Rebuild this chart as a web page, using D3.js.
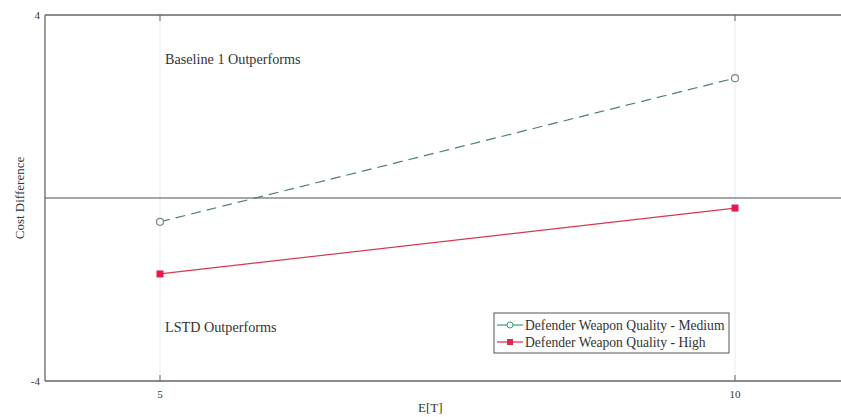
<!DOCTYPE html>
<html>
<head>
<meta charset="utf-8">
<script src="https://cdn.jsdelivr.net/npm/d3@7"></script>
<style>
  body { margin: 0; background: #fff; }
  svg { font-family: "Liberation Serif", "Times New Roman", serif; }
</style>
</head>
<body>
<div id="chart"></div>
<script>
var xValues = [5, 10];
var mediumValues = [-0.52, 2.62];
var highValues = [-1.66, -0.22];
var seriesNames = ["Defender Weapon Quality - Medium", "Defender Weapon Quality - High"];
var yTicks = [-4, 4];

var margin = {top: 15, right: -9, bottom: 36, left: 45},
    width = 841 - margin.left - margin.right,
    height = 417 - margin.top - margin.bottom;

var x = d3.scaleLinear().domain([4, 11]).range([0, width]);
var y = d3.scaleLinear().domain([-4, 4]).range([height, 0]);

var svg = d3.select("#chart").append("svg")
    .attr("width", 841)
    .attr("height", 417)
    .append("g")
    .attr("transform", "translate(" + margin.left + "," + margin.top + ")");

// faint vertical guides at x ticks
svg.selectAll(".vgrid")
    .data(xValues)
    .enter().append("line")
    .attr("x1", function(d) { return x(d); })
    .attr("x2", function(d) { return x(d); })
    .attr("y1", 0)
    .attr("y2", height)
    .style("stroke", "#e3eef0")
    .style("stroke-width", 1);

// zero line
svg.append("line")
    .attr("x1", 0).attr("x2", width)
    .attr("y1", y(0)).attr("y2", y(0))
    .style("stroke", "#8a8a8a")
    .style("stroke-width", 1.3);

// axes frame
svg.append("line").attr("x1", 0).attr("x2", width).attr("y1", 0).attr("y2", 0)
    .style("stroke", "#666").style("stroke-width", 1.3);
svg.append("line").attr("x1", 0).attr("x2", width).attr("y1", height).attr("y2", height)
    .style("stroke", "#666").style("stroke-width", 1.3);
svg.append("line").attr("x1", 0).attr("x2", 0).attr("y1", 0).attr("y2", height)
    .style("stroke", "#666").style("stroke-width", 1.3);

// ticks (inward)
svg.selectAll(".tickb").data(xValues).enter().append("line")
    .attr("x1", function(d) { return x(d); }).attr("x2", function(d) { return x(d); })
    .attr("y1", height).attr("y2", height - 6)
    .style("stroke", "#666");
svg.selectAll(".tickt").data(xValues).enter().append("line")
    .attr("x1", function(d) { return x(d); }).attr("x2", function(d) { return x(d); })
    .attr("y1", 0).attr("y2", 6)
    .style("stroke", "#666");

svg.selectAll(".xlab").data(xValues).enter().append("text")
    .attr("x", function(d) { return x(d); })
    .attr("y", height + 17)
    .attr("text-anchor", "middle")
    .style("font-size", "11px")
    .style("fill", "#333")
    .text(function(d) { return d; });

svg.selectAll(".ylab").data(yTicks).enter().append("text")
    .attr("x", -5)
    .attr("y", function(d) { return y(d) + 4; })
    .attr("text-anchor", "end")
    .style("font-size", "11px")
    .style("fill", "#333")
    .text(function(d) { return d; });

// axis titles
svg.append("text")
    .attr("x", x(7.35))
    .attr("y", height + 31)
    .attr("text-anchor", "middle")
    .style("font-size", "13px")
    .style("fill", "#333")
    .text("E[T]");

svg.append("text")
    .attr("transform", "translate(" + (-21) + "," + y(0) + ") rotate(-90)")
    .attr("text-anchor", "middle")
    .style("font-size", "13px")
    .style("fill", "#333")
    .text("Cost Difference");

// region annotations
svg.append("text")
    .attr("x", x(5) + 5)
    .attr("y", y(2.92))
    .style("font-size", "14.2px")
    .style("fill", "#333")
    .text("Baseline 1 Outperforms");

svg.append("text")
    .attr("x", x(5) + 5)
    .attr("y", y(-2.93))
    .style("font-size", "14.2px")
    .style("fill", "#333")
    .text("LSTD Outperforms");

var line = d3.line()
    .x(function(d) { return x(d[0]); })
    .y(function(d) { return y(d[1]); });

var medData = xValues.map(function(d, i) { return [d, mediumValues[i]]; });
var highData = xValues.map(function(d, i) { return [d, highValues[i]]; });

svg.append("path")
    .datum(medData)
    .attr("d", line)
    .style("fill", "none")
    .style("stroke", "#4f7d74")
    .style("stroke-width", 1.2)
    .style("stroke-dasharray", "10,6");

svg.append("path")
    .datum(highData)
    .attr("d", line)
    .style("fill", "none")
    .style("stroke", "#d9364f")
    .style("stroke-width", 1.2);

svg.selectAll(".medpt").data(medData).enter().append("circle")
    .attr("cx", function(d) { return x(d[0]); })
    .attr("cy", function(d) { return y(d[1]); })
    .attr("r", 3.5)
    .style("fill", "#fff")
    .style("stroke", "#7a8a88")
    .style("stroke-width", 1.2);

svg.selectAll(".highpt").data(highData).enter().append("rect")
    .attr("x", function(d) { return x(d[0]) - 3.5; })
    .attr("y", function(d) { return y(d[1]) - 3.5; })
    .attr("width", 7)
    .attr("height", 7)
    .style("fill", "#e8184a");

// legend
var legend = svg.append("g")
    .attr("transform", "translate(" + (494 - margin.left) + "," + (313 - margin.top) + ")");

legend.append("rect")
    .attr("width", 235)
    .attr("height", 40)
    .style("fill", "#fff")
    .style("stroke", "#555")
    .style("stroke-width", 1);

var legColors = ["#3c9a6c", "#e0284a"];
seriesNames.forEach(function(name, i) {
    var ly = 12 + i * 17;
    legend.append("line")
        .attr("x1", 3).attr("x2", 29)
        .attr("y1", ly).attr("y2", ly)
        .style("stroke", legColors[i])
        .style("stroke-width", 1.2);
    if (i === 0) {
        legend.append("circle")
            .attr("cx", 16).attr("cy", ly).attr("r", 3)
            .style("fill", "#fff").style("stroke", legColors[i]);
    } else {
        legend.append("rect")
            .attr("x", 13).attr("y", ly - 3).attr("width", 6).attr("height", 6)
            .style("fill", legColors[i]);
    }
    legend.append("text")
        .attr("x", 31)
        .attr("y", ly + 4.5)
        .style("font-size", "13.6px")
        .style("fill", "#333")
        .text(name);
});
</script>
</body>
</html>
